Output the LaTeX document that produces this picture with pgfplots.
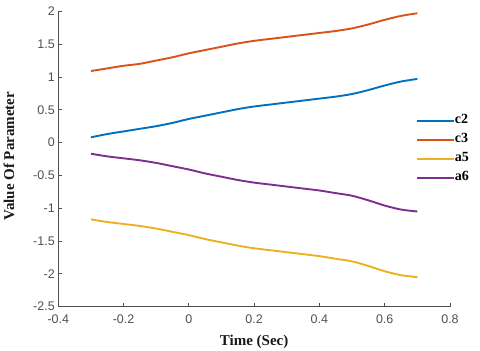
\documentclass[border=0pt]{standalone}
\usepackage{pgfplots}
\pgfplotsset{compat=1.18}
\usepackage{fontspec}
\setmainfont{Liberation Serif}
\newfontfamily\ticksans{Liberation Sans}
\definecolor{mblue}{RGB}{0,114,189}
\definecolor{morange}{RGB}{217,83,25}
\definecolor{myellow}{RGB}{237,177,32}
\definecolor{mpurple}{RGB}{126,47,142}
\definecolor{axgray}{RGB}{80,80,80}
\definecolor{tickgray}{RGB}{80,80,80}
\begin{document}
\begin{tikzpicture}
\begin{axis}[name=ax, scale only axis, width=391.7pt, height=295.4pt,
 xmin=-0.4, xmax=0.8, ymin=-2.5, ymax=2,
 xtick={-0.4,-0.2,0,0.2,0.4,0.6,0.8},
 ytick={-2.5,-2,-1.5,-1,-0.5,0,0.5,1,1.5,2},
 axis x line=bottom, axis y line=left,
 axis line style={-, axgray, line width=0.8pt},
 tick align=inside, major tick length=4pt,
 tick style={axgray, line width=0.8pt},
 /pgf/number format/assume math mode=true,
 ticklabel style={font=\ticksans\fontsize{12.5}{14}\selectfont, text=tickgray},
 xticklabel style={yshift=-5pt},
 xlabel={Time (Sec)}, ylabel={Value Of Parameter},
 label style={font=\bfseries\fontsize{15}{18}\selectfont, text=black!90},
 xlabel style={at={(axis description cs:0.5,-0.1297)}, anchor=base},
 ylabel style={at={(axis description cs:-0.1259,0.51)}, anchor=center},
 legend cell align=left,
 legend image code/.code={\draw[#1] (0pt,0pt) -- (37pt,0pt);},
 legend style={at={(axis description cs:0.913,0.533)}, anchor=west,
   draw=none, fill=none, inner sep=0pt, outer sep=0pt, row sep=7pt,
   nodes={inner sep=0pt, text height=9pt, text depth=3pt,
     font=\bfseries\fontsize{14}{16}\selectfont},
   /tikz/column 2/.style={column sep=2pt}},
 every axis plot/.append style={line width=1.9pt, smooth},
]
\addplot[mblue] coordinates {
(-0.30,0.08) (-0.25,0.13) (-0.20,0.17) (-0.15,0.21) (-0.10,0.25) (-0.05,0.30)
(0.00,0.36) (0.05,0.41) (0.10,0.46) (0.15,0.51) (0.20,0.55) (0.25,0.58)
(0.30,0.61) (0.35,0.64) (0.40,0.67) (0.45,0.70) (0.50,0.74) (0.55,0.80)
(0.60,0.87) (0.65,0.93) (0.70,0.97)};
\addlegendentry{c2}
\addplot[morange] coordinates {
(-0.30,1.09) (-0.25,1.13) (-0.20,1.17) (-0.15,1.20) (-0.10,1.25) (-0.05,1.30)
(0.00,1.36) (0.05,1.41) (0.10,1.46) (0.15,1.51) (0.20,1.55) (0.25,1.58)
(0.30,1.61) (0.35,1.64) (0.40,1.67) (0.45,1.70) (0.50,1.74) (0.55,1.80)
(0.60,1.87) (0.65,1.93) (0.70,1.97)};
\addlegendentry{c3}
\addplot[myellow] coordinates {
(-0.30,-1.17) (-0.25,-1.21) (-0.20,-1.24) (-0.15,-1.27) (-0.10,-1.31) (-0.05,-1.36)
(0.00,-1.41) (0.05,-1.47) (0.10,-1.52) (0.15,-1.57) (0.20,-1.61) (0.25,-1.64)
(0.30,-1.67) (0.35,-1.70) (0.40,-1.73) (0.45,-1.77) (0.50,-1.81) (0.55,-1.88)
(0.60,-1.96) (0.65,-2.02) (0.70,-2.05)};
\addlegendentry{a5}
\addplot[mpurple] coordinates {
(-0.30,-0.17) (-0.25,-0.21) (-0.20,-0.24) (-0.15,-0.27) (-0.10,-0.31) (-0.05,-0.36)
(0.00,-0.41) (0.05,-0.47) (0.10,-0.52) (0.15,-0.57) (0.20,-0.61) (0.25,-0.64)
(0.30,-0.67) (0.35,-0.70) (0.40,-0.73) (0.45,-0.77) (0.50,-0.81) (0.55,-0.88)
(0.60,-0.96) (0.65,-1.02) (0.70,-1.05)};
\addlegendentry{a6}
\end{axis}
\pgfresetboundingbox
\path[use as bounding box] ([xshift=-58.3pt,yshift=-44.3pt]ax.south west) rectangle ([xshift=30pt,yshift=11.3pt]ax.north east);
\end{tikzpicture}
\end{document}
